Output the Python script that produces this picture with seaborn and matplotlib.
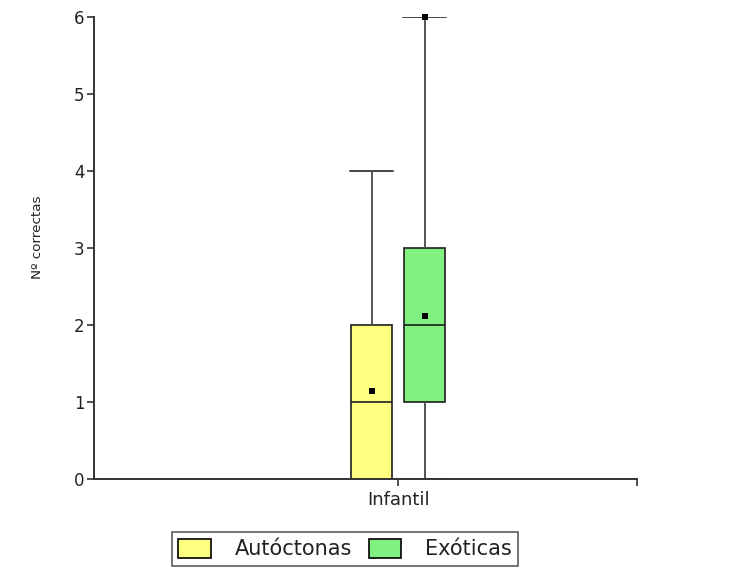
import matplotlib
matplotlib.use("Agg")
import matplotlib.pyplot as plt
import seaborn as sns
import pandas as pd
from matplotlib.patches import Patch

# ---- data ----
category = "Infantil"
groups = ["Autóctonas", "Exóticas"]
# five-number summaries: min, q1, median, q3, max
summary_autoctonas = [0, 0, 1, 2, 4]
summary_exoticas = [0, 1, 2, 3, 6]
means = [1.14, 2.12]
max_marker = [float("nan"), 6]
colors = ["#FFFF80", "#80F080"]
yticks = [0, 1, 2, 3, 4, 5, 6]

sns.set_theme(style="white")
plt.rcParams["font.family"] = ["DejaVu Sans"]

box_df = pd.DataFrame({
    "cat": [category] * (len(summary_autoctonas) + len(summary_exoticas)),
    "grupo": [groups[0]] * len(summary_autoctonas) + [groups[1]] * len(summary_exoticas),
    "val": summary_autoctonas + summary_exoticas,
})
mean_df = pd.DataFrame({"cat": [category] * 2, "grupo": groups, "val": means})
max_df = pd.DataFrame({"cat": [category] * 2, "grupo": groups, "val": max_marker})

fig = plt.figure(figsize=(7.39, 5.72), dpi=100)
ax = fig.add_axes([0.1272, 0.1626, 0.735, 0.8077])

edge = "#1e1e1e"
sns.boxplot(data=box_df, x="cat", y="val", hue="grupo", hue_order=groups,
            palette=colors, saturation=1, whis=(0, 100), width=0.39, gap=0.23,
            linecolor=edge, linewidth=1.2, showfliers=False, legend=False,
            capwidths=0.16, ax=ax,
            whiskerprops=dict(color="#555555", linewidth=1.4),
            capprops=dict(color="#444444", linewidth=1.4))
n_box_lines = len(ax.lines)

for d in (mean_df, max_df):
    sns.pointplot(data=d, x="cat", y="val", hue="grupo", hue_order=groups,
                  palette=["black", "black"], dodge=0.195, markers="s",
                  linestyles="none", errorbar=None, markersize=4.2,
                  markeredgewidth=0, legend=False, ax=ax)
for ln in ax.lines[n_box_lines:]:
    ln.set_clip_on(False)
    ln.set_zorder(5)

ax.set_xlim(-1.12, 0.88)
ax.set_ylim(0, 6)
ax.set_yticks(yticks)
ax.set_yticklabels([str(t) for t in yticks], fontsize=12, color="#222222")
ax.set_xticks([0])
ax.set_xticklabels([category], fontsize=13, color="#222222")
ax.set_xticks([0.88], minor=True)
ax.tick_params(axis="both", which="both", direction="out", length=5, width=1.2,
               color="#333333", left=True, bottom=True)
ax.tick_params(axis="y", pad=2)
ax.tick_params(axis="x", pad=4)
ax.set_xlabel("")
ax.set_ylabel("Nº correctas", fontsize=9.7, color="#222222")
ax.yaxis.set_label_coords(-0.092, 0.524)
for s in ("top", "right"):
    ax.spines[s].set_visible(False)
for s in ("left", "bottom"):
    ax.spines[s].set_color("#333333")
    ax.spines[s].set_linewidth(1.4)
ax.set_facecolor("white")

handles = [Patch(facecolor=c, edgecolor="black", linewidth=1.2) for c in colors]
leg = fig.legend(handles, groups, loc="center left", bbox_to_anchor=(0.2327, 0.0402),
                 ncol=2, fontsize=15, frameon=True, fancybox=False,
                 edgecolor="#333333", handlelength=1.58, handleheight=1.06,
                 handletextpad=1.15, columnspacing=0.77, borderpad=0.3,
                 borderaxespad=0)
leg.get_frame().set_linewidth(1.2)
for t in leg.get_texts():
    t.set_color("#222222")

fig.savefig("out.png", dpi=100, facecolor="white")
